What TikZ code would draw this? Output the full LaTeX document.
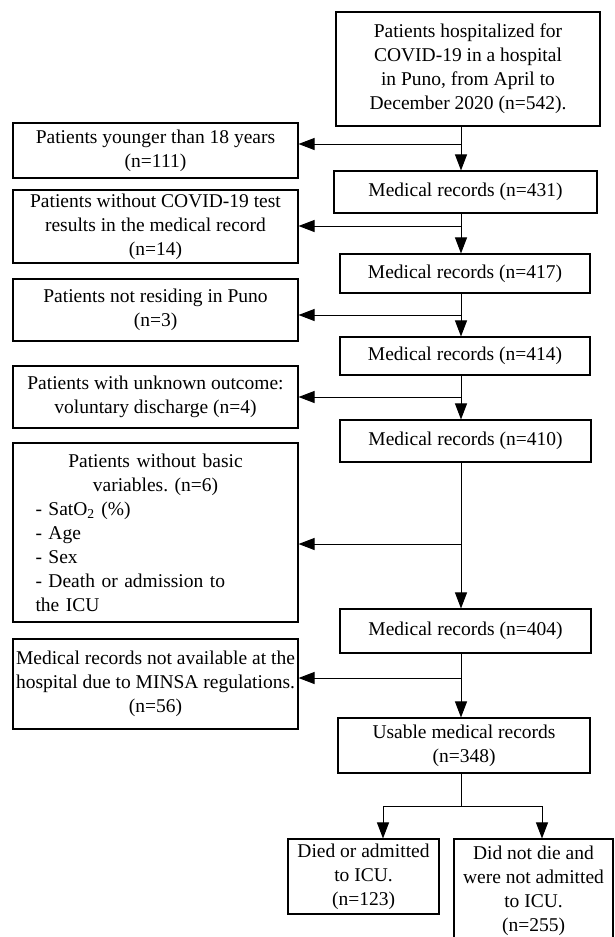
\documentclass[tikz,border=0pt]{standalone}
\usepackage{fontspec}
\setmainfont{Liberation Serif}
\usetikzlibrary{arrows.meta}
\frenchspacing
\begin{document}
\begin{tikzpicture}[x=1pt,y=-1pt,
  box/.style={draw, line width=1.1pt, inner sep=0pt, align=center, font=\fontsize{19.5}{24}\selectfont},
  conn/.style={line width=1pt, -{Triangle[length=16pt,width=12pt]}},
  plain/.style={line width=1pt}]
\useasboundingbox (0,0) rectangle (615,937);
\clip (0,0) rectangle (615,937);
% main column
\node[box, minimum width=264pt, minimum height=114pt] (top) at (468,69) {Patients hospitalized for\\COVID-19 in a hospital\\in Puno, from April to\\December 2020 (n=542).};
\node[box, minimum width=263pt, minimum height=42pt] (m431) at (465.5,192) {Medical records (n=431)};
\node[box, minimum width=250pt, minimum height=39pt] (m417) at (465,273.5) {Medical records (n=417)};
\node[box, minimum width=250pt, minimum height=38pt] (m414) at (465,356) {Medical records (n=414)};
\node[box, minimum width=251pt, minimum height=42pt] (m410) at (465.5,441) {Medical records (n=410)};
\node[box, minimum width=251pt, minimum height=44pt] (m404) at (465.5,631) {Medical records (n=404)};
\node[box, minimum width=252pt, minimum height=55pt] (use) at (464,745.5) {Usable medical records\\(n=348)};
\node[box, minimum width=151pt, minimum height=75pt] (died) at (363.5,876.5) {Died or admitted\\to ICU.\\(n=123)};
\node[box, minimum width=159pt, minimum height=104pt] (alive) at (533.5,891) {Did not die and\\were not admitted\\to ICU.\\(n=255)};
% left column
\node[box, minimum width=285pt, minimum height=55pt] (L1) at (155.5,150.5) {Patients younger than 18 years\\(n=111)};
\node[box, minimum width=285pt, minimum height=73pt] (L2) at (155.5,226.5) {Patients without COVID-19 test\\results in the medical record\\(n=14)};
\node[box, minimum width=285pt, minimum height=62pt] (L3) at (155.5,310) {Patients not residing in Puno\\(n=3)};
\node[box, minimum width=285pt, minimum height=62pt] (L4) at (155.5,397) {Patients with unknown outcome:\\voluntary discharge (n=4)};
\node[box, minimum width=285pt, minimum height=179pt, text width=240pt, align=left] (L5) at (155.5,532.5) {{\centering Patients without basic\\variables. (n=6)\par}- SatO\textsubscript{2} (\%)\\- Age\\- Sex\\- Death or admission to\\the ICU};
\node[box, minimum width=285pt, minimum height=90pt] (L6) at (155.5,684) {Medical records not available at the\\hospital due to MINSA regulations.\\(n=56)};
% junctions
\coordinate (j1) at (461,144);
\coordinate (j2) at (461,226);
\coordinate (j3) at (461,315);
\coordinate (j4) at (461,397);
\coordinate (j5) at (461,544);
\coordinate (j6) at (461,678);
\coordinate (b0) at (461,806);
\coordinate (b1) at (383,806);
\coordinate (b2) at (542,806);
% connectors
\draw[conn] (top.south -| j1) -- (m431.north -| j1);
\draw[conn] (j1) -- (L1.east |- j1);
\draw[conn] (m431.south -| j2) -- (m417.north -| j2);
\draw[conn] (j2) -- (L2.east |- j2);
\draw[conn] (m417.south -| j3) -- (m414.north -| j3);
\draw[conn] (j3) -- (L3.east |- j3);
\draw[conn] (m414.south -| j4) -- (m410.north -| j4);
\draw[conn] (j4) -- (L4.east |- j4);
\draw[conn] (m410.south -| j5) -- (m404.north -| j5);
\draw[conn] (j5) -- (L5.east |- j5);
\draw[conn] (m404.south -| j6) -- (use.north -| j6);
\draw[conn] (j6) -- (L6.east |- j6);
\draw[plain] (use.south -| b0) -- (b0);
\draw[plain] (b1) -- (b2);
\draw[conn] (b1) -- (died.north -| b1);
\draw[conn] (b2) -- (alive.north -| b2);
\end{tikzpicture}
\end{document}
